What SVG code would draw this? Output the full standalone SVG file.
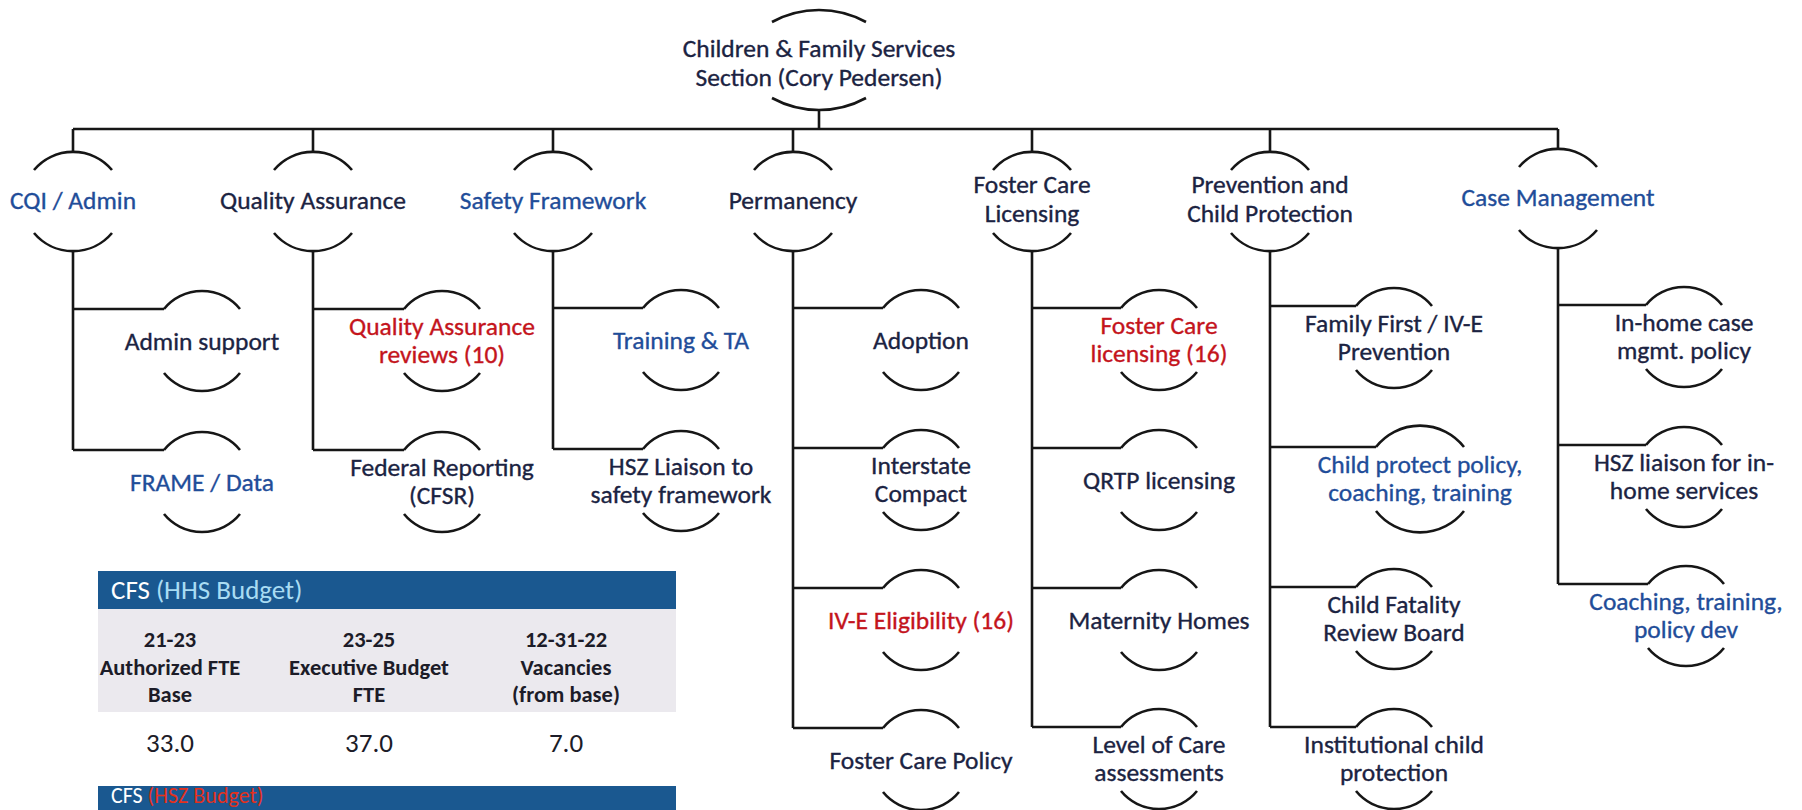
<svg xmlns="http://www.w3.org/2000/svg" width="1802" height="810" viewBox="0 0 1802 810">
<style>
.ln{fill:none;stroke:#161616;stroke-width:2.6}
.t{font-family:Carlito,Lato,"Liberation Sans",sans-serif;font-size:25.5px;text-anchor:middle;stroke-width:0.35px}
.n{fill:#1b2342;stroke:#1b2342}
.b{fill:#1f4d99;stroke:#1f4d99}
.r{fill:#c4141c;stroke:#c4141c}
.hd{font-family:Carlito,Lato,"Liberation Sans",sans-serif;font-size:22.5px;font-weight:bold;fill:#1c1c28;text-anchor:middle}
.val{font-family:Carlito,Lato,"Liberation Sans",sans-serif;font-size:27px;fill:#1c1c28;text-anchor:middle}
.cap{font-family:Carlito,Lato,"Liberation Sans",sans-serif;font-size:27px}
</style>
<rect width="1802" height="810" fill="#ffffff"/>

<g id="connectors" class="ln">
  <path d="M73,129 H1558"/>
  <path d="M819,110 V129"/>
  <path d="M73,129 V152 M313,129 V152 M553,129 V152 M793,129 V152 M1032,129 V152 M1270,129 V152 M1558,129 V149"/>
  <path d="M73,251 V450 M73,309 H164 M73,450 H164"/>
  <path d="M313,251 V450 M313,309 H404 M313,450 H404"/>
  <path d="M553,251 V449 M553,308 H643 M553,449 H643"/>
  <path d="M793,251 V728 M793,308 H883 M793,448 H883 M793,588 H883 M793,728 H883"/>
  <path d="M1032,251 V727 M1032,308 H1121 M1032,448 H1121 M1032,588 H1121 M1032,727 H1121"/>
  <path d="M1270,251 V727 M1270,306 H1356 M1270,447 H1376 M1270,587 H1356 M1270,727 H1356"/>
  <path d="M1558,248 V584 M1558,305 H1646 M1558,445 H1646 M1558,584 H1648"/>
</g>

<g id="root">
  <path class="ln" d="M772,22 A98 98 0 0 1 866,22 M772,98 A98 98 0 0 0 866,98"/>
  <text class="t n" x="819" y="57">Children &amp; Family Services</text>
  <text class="t n" x="819" y="86">Section (Cory Pedersen)</text>
</g>

<g id="cqi-admin">
  <path class="ln" d="M34,170 A51 51 0 0 1 112,170 M34,233 A51 51 0 0 0 112,233"/>
  <text class="t b" x="73" y="209">CQI / Admin</text>
</g>
<g id="quality-assurance">
  <path class="ln" d="M274,170 A51 51 0 0 1 352,170 M274,233 A51 51 0 0 0 352,233"/>
  <text class="t n" x="313" y="209">Quality Assurance</text>
</g>
<g id="safety-framework">
  <path class="ln" d="M514,170 A51 51 0 0 1 592,170 M514,233 A51 51 0 0 0 592,233"/>
  <text class="t b" x="553" y="209">Safety Framework</text>
</g>
<g id="permanency">
  <path class="ln" d="M754,170 A51 51 0 0 1 832,170 M754,233 A51 51 0 0 0 832,233"/>
  <text class="t n" x="793" y="209">Permanency</text>
</g>
<g id="foster-care-licensing">
  <path class="ln" d="M993,170 A51 51 0 0 1 1071,170 M993,233 A51 51 0 0 0 1071,233"/>
  <text class="t n" x="1032" y="193">Foster Care</text>
  <text class="t n" x="1032" y="222">Licensing</text>
</g>
<g id="prevention-child-protection">
  <path class="ln" d="M1231,170 A51 51 0 0 1 1309,170 M1231,233 A51 51 0 0 0 1309,233"/>
  <text class="t n" x="1270" y="193">Prevention and</text>
  <text class="t n" x="1270" y="222">Child Protection</text>
</g>
<g id="case-management">
  <path class="ln" d="M1519,167 A51 51 0 0 1 1597,167 M1519,230 A51 51 0 0 0 1597,230"/>
  <text class="t b" x="1558" y="206">Case Management</text>
</g>

<g id="admin-support">
  <path class="ln" d="M164,309 A49 49 0 0 1 240,309 M164,373 A49 49 0 0 0 240,373"/>
  <text class="t n" x="202" y="350">Admin support</text>
</g>
<g id="frame-data">
  <path class="ln" d="M164,450 A49 49 0 0 1 240,450 M164,514 A49 49 0 0 0 240,514"/>
  <text class="t b" x="202" y="491">FRAME / Data</text>
</g>
<g id="qa-reviews">
  <path class="ln" d="M404,309 A49 49 0 0 1 480,309 M404,373 A49 49 0 0 0 480,373"/>
  <text class="t r" x="442" y="335">Quality Assurance</text>
  <text class="t r" x="442" y="363">reviews (10)</text>
</g>
<g id="federal-reporting">
  <path class="ln" d="M404,450 A49 49 0 0 1 480,450 M404,514 A49 49 0 0 0 480,514"/>
  <text class="t n" x="442" y="476">Federal Reporting</text>
  <text class="t n" x="442" y="504">(CFSR)</text>
</g>
<g id="training-ta">
  <path class="ln" d="M643,308 A49 49 0 0 1 719,308 M643,372 A49 49 0 0 0 719,372"/>
  <text class="t b" x="681" y="349">Training &amp; TA</text>
</g>
<g id="hsz-liaison-safety">
  <path class="ln" d="M643,449 A49 49 0 0 1 719,449 M643,513 A49 49 0 0 0 719,513"/>
  <text class="t n" x="681" y="475">HSZ Liaison to</text>
  <text class="t n" x="681" y="503">safety framework</text>
</g>
<g id="adoption">
  <path class="ln" d="M883,308 A49 49 0 0 1 959,308 M883,372 A49 49 0 0 0 959,372"/>
  <text class="t n" x="921" y="349">Adoption</text>
</g>
<g id="interstate-compact">
  <path class="ln" d="M883,448 A49 49 0 0 1 959,448 M883,512 A49 49 0 0 0 959,512"/>
  <text class="t n" x="921" y="474">Interstate</text>
  <text class="t n" x="921" y="502">Compact</text>
</g>
<g id="iv-e-eligibility">
  <path class="ln" d="M883,588 A49 49 0 0 1 959,588 M883,652 A49 49 0 0 0 959,652"/>
  <text class="t r" x="921" y="629">IV-E Eligibility (16)</text>
</g>
<g id="foster-care-policy">
  <path class="ln" d="M883,728 A49 49 0 0 1 959,728 M883,792 A49 49 0 0 0 959,792"/>
  <text class="t n" x="921" y="769">Foster Care Policy</text>
</g>
<g id="foster-care-licensing-16">
  <path class="ln" d="M1121,308 A49 49 0 0 1 1197,308 M1121,372 A49 49 0 0 0 1197,372"/>
  <text class="t r" x="1159" y="334">Foster Care</text>
  <text class="t r" x="1159" y="362">licensing (16)</text>
</g>
<g id="qrtp-licensing">
  <path class="ln" d="M1121,448 A49 49 0 0 1 1197,448 M1121,512 A49 49 0 0 0 1197,512"/>
  <text class="t n" x="1159" y="489">QRTP licensing</text>
</g>
<g id="maternity-homes">
  <path class="ln" d="M1121,588 A49 49 0 0 1 1197,588 M1121,652 A49 49 0 0 0 1197,652"/>
  <text class="t n" x="1159" y="629">Maternity Homes</text>
</g>
<g id="level-of-care">
  <path class="ln" d="M1121,727 A49 49 0 0 1 1197,727 M1121,791 A49 49 0 0 0 1197,791"/>
  <text class="t n" x="1159" y="753">Level of Care</text>
  <text class="t n" x="1159" y="781">assessments</text>
</g>
<g id="family-first">
  <path class="ln" d="M1356,306 A49 49 0 0 1 1432,306 M1356,370 A49 49 0 0 0 1432,370"/>
  <text class="t n" x="1394" y="332">Family First / IV-E</text>
  <text class="t n" x="1394" y="360">Prevention</text>
</g>
<g id="child-protect-policy">
  <path class="ln" d="M1376,447 A56 56 0 0 1 1464,447 M1376,511 A56 56 0 0 0 1464,511"/>
  <text class="t b" x="1420" y="473">Child protect policy,</text>
  <text class="t b" x="1420" y="501">coaching, training</text>
</g>
<g id="child-fatality">
  <path class="ln" d="M1356,587 A49 49 0 0 1 1432,587 M1356,651 A49 49 0 0 0 1432,651"/>
  <text class="t n" x="1394" y="613">Child Fatality</text>
  <text class="t n" x="1394" y="641">Review Board</text>
</g>
<g id="institutional-child-protection">
  <path class="ln" d="M1356,727 A49 49 0 0 1 1432,727 M1356,791 A49 49 0 0 0 1432,791"/>
  <text class="t n" x="1394" y="753">Institutional child</text>
  <text class="t n" x="1394" y="781">protection</text>
</g>
<g id="in-home-case">
  <path class="ln" d="M1646,305 A49 49 0 0 1 1722,305 M1646,369 A49 49 0 0 0 1722,369"/>
  <text class="t n" x="1684" y="331">In-home case</text>
  <text class="t n" x="1684" y="359">mgmt. policy</text>
</g>
<g id="hsz-liaison-in-home">
  <path class="ln" d="M1646,445 A49 49 0 0 1 1722,445 M1646,509 A49 49 0 0 0 1722,509"/>
  <text class="t n" x="1684" y="471">HSZ liaison for in-</text>
  <text class="t n" x="1684" y="499">home services</text>
</g>
<g id="coaching-training">
  <path class="ln" d="M1648,584 A49 49 0 0 1 1724,584 M1648,648 A49 49 0 0 0 1724,648"/>
  <text class="t b" x="1686" y="610">Coaching, training,</text>
  <text class="t b" x="1686" y="638">policy dev</text>
</g>

<g id="budget-table">
  <rect x="98" y="571" width="578" height="38" fill="#1a5890"/>
  <text class="cap" x="111" y="599"><tspan fill="#ffffff">CFS </tspan><tspan fill="#a9dcf3">(HHS Budget)</tspan></text>
  <rect x="98" y="609" width="578" height="103" fill="#ebe9ee"/>
  <text class="hd" x="170" y="647">21-23</text>
  <text class="hd" x="170" y="675">Authorized FTE</text>
  <text class="hd" x="170" y="702">Base</text>
  <text class="hd" x="369" y="647">23-25</text>
  <text class="hd" x="369" y="675">Executive Budget</text>
  <text class="hd" x="369" y="702">FTE</text>
  <text class="hd" x="566" y="647">12-31-22</text>
  <text class="hd" x="566" y="675">Vacancies</text>
  <text class="hd" x="566" y="702">(from base)</text>
  <text class="val" x="170" y="752">33.0</text>
  <text class="val" x="369" y="752">37.0</text>
  <text class="val" x="566" y="752">7.0</text>
  <rect x="98" y="786" width="578" height="24" fill="#1a5890"/>
  <text class="cap" x="111" y="803" style="font-size:22px"><tspan fill="#ffffff">CFS </tspan><tspan fill="#e3311d">(HSZ Budget)</tspan></text>
</g>
</svg>
